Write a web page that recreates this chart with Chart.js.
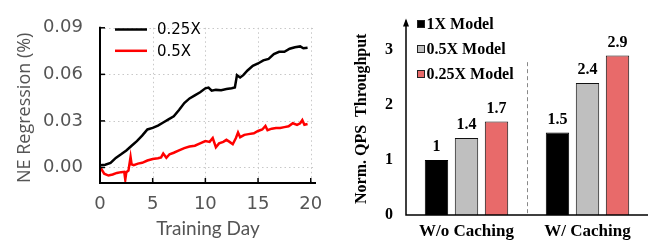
<!DOCTYPE html>
<html><head><meta charset="utf-8">
<script src="https://cdn.jsdelivr.net/npm/chart.js@4/dist/chart.umd.min.js"></script>
<style>
html,body{margin:0;padding:0;background:#fff;width:654px;height:245px;overflow:hidden}
#l{position:absolute;left:0;top:0;width:335px;height:245px}
#r{position:absolute;left:335px;top:0;width:319px;height:245px}
</style></head><body>
<div id="l"><canvas id="cl"></canvas></div>
<div id="r"><canvas id="cr"></canvas></div>
<script>
// ---- Left chart data ----
const daysA = [0,0.5,1,1.5,2,2.5,3,3.5,4,4.5,5,5.5,6,6.5,7,7.5,8,8.5,9,9.5,10,10.3,10.6,11,11.5,12,12.5,12.8,13,13.3,13.6,14,14.5,15,15.5,16,16.5,17,17.5,18,18.5,19,19.3,19.7];
const neA = [0.0014,0.0018,0.003,0.0062,0.0085,0.011,0.014,0.017,0.0205,0.0245,0.0255,0.027,0.029,0.031,0.033,0.037,0.0415,0.0445,0.0465,0.0485,0.051,0.0515,0.0495,0.05,0.0498,0.0505,0.051,0.0515,0.0595,0.058,0.0595,0.0625,0.0655,0.067,0.069,0.070,0.073,0.0745,0.0745,0.0765,0.0775,0.078,0.0768,0.0772];
const daysB = [0,0.15,0.4,0.8,1.2,1.6,2.0,2.3,2.4,2.5,2.7,2.9,3.0,3.2,3.6,4.0,4.5,5.0,5.5,5.8,6.0,6.3,6.6,7.0,7.5,8.0,8.5,9.0,9.5,10.0,10.4,10.7,11.0,11.3,11.7,12.0,12.3,12.6,12.9,13.1,13.3,13.7,14.1,14.6,15.0,15.4,15.7,15.9,16.3,16.7,17.1,17.5,17.9,18.3,18.7,19.0,19.2,19.4,19.7];
const neB = [-0.002,-0.0012,-0.004,-0.0052,-0.0045,-0.0035,-0.003,-0.0028,-0.0078,-0.003,-0.002,0.0068,0.002,0.0015,0.0025,0.003,0.0045,0.0055,0.006,0.0065,0.009,0.0062,0.0085,0.0095,0.011,0.0125,0.0135,0.014,0.0155,0.017,0.0165,0.019,0.013,0.0155,0.0165,0.0178,0.0165,0.0150,0.019,0.0225,0.0195,0.021,0.0215,0.022,0.0235,0.0245,0.0268,0.024,0.025,0.0255,0.0255,0.026,0.0265,0.0285,0.0275,0.0285,0.0305,0.0275,0.028];
const lineLabels = ['0.25X','0.5X'];
const xTicksL = [0,5,10,15,20];
const yTicksL = [0,0.03,0.06,0.09];

// ---- Right chart data ----
const groups = ['W/o Caching','W/ Caching'];
const modelLabels = ['1X Model','0.5X Model','0.25X Model'];
const qps1x = [1,1.5];
const qps05x = [1.4,2.4];
const qps025x = [1.7,2.9];
const yTicksR = [0,1,2,3];

const toPts = (xs, ys) => xs.map((x,i)=>({x:x,y:ys[i]}));

const leftDeco = {
  id:'leftDeco',
  beforeDatasetsDraw(c){
    const {ctx, scales:{x,y}, chartArea:a} = c;
    ctx.save();
    ctx.strokeStyle='#c8c8c8'; ctx.lineWidth=1; ctx.setLineDash([1.5,3]);
    yTicksL.forEach(v=>{ const py=Math.round(y.getPixelForValue(v))+0.5; ctx.beginPath(); ctx.moveTo(a.left,py); ctx.lineTo(x.getPixelForValue(20.5),py); ctx.stroke();});
    xTicksL.forEach(v=>{ if(v===0) return; const px=Math.round(x.getPixelForValue(v))+0.5; ctx.beginPath(); ctx.moveTo(px,y.getPixelForValue(0.09)); ctx.lineTo(px,a.bottom); ctx.stroke();});
    ctx.restore();
  },
  afterDraw(c){
    const {ctx, scales:{x,y}, chartArea:a} = c;
    ctx.save();
    ctx.strokeStyle='#000'; ctx.lineWidth=2; ctx.setLineDash([]);
    ctx.beginPath(); ctx.moveTo(a.left, y.getPixelForValue(0.09)-1); ctx.lineTo(a.left, a.bottom); ctx.lineTo(a.right, a.bottom); ctx.stroke();
    ctx.lineWidth=1.5;
    yTicksL.forEach(v=>{const py=y.getPixelForValue(v); ctx.beginPath(); ctx.moveTo(a.left,py); ctx.lineTo(a.left+5,py); ctx.stroke();});
    xTicksL.forEach(v=>{const px=x.getPixelForValue(v); ctx.beginPath(); ctx.moveTo(px,a.bottom); ctx.lineTo(px,a.bottom-5); ctx.stroke();});
    ctx.font='15px "DejaVu Sans"'; ctx.textBaseline='middle'; ctx.textAlign='left';
    c.data.datasets.forEach((ds,i)=>{
      const yy = 29.5 + i*21.3;
      ctx.strokeStyle=ds.borderColor; ctx.lineWidth=2.5;
      ctx.beginPath(); ctx.moveTo(115,yy); ctx.lineTo(147,yy); ctx.stroke();
      ctx.fillStyle='#000'; ctx.fillText(ds.label,157,yy+1);
    });
    ctx.restore();
  }
};

new Chart(document.getElementById('cl'), {
  type:'line',
  data:{datasets:[
    {label:lineLabels[0], data:toPts(daysA,neA), borderColor:'#000', borderWidth:2.5, pointRadius:0, tension:0},
    {label:lineLabels[1], data:toPts(daysB,neB), borderColor:'#ff0000', borderWidth:2.5, pointRadius:0, tension:0}
  ]},
  options:{
    responsive:true, maintainAspectRatio:false, animation:false,
    layout:{padding:{top:10,right:19,left:0,bottom:0}},
    plugins:{legend:{display:false}, tooltip:{enabled:false}},
    scales:{
      x:{type:'linear', min:0, max:20.5,
        afterBuildTicks:s=>{s.ticks=xTicksL.map(v=>({value:v}));},
        afterFit:s=>{s.height=62;},
        grid:{display:false}, border:{display:false},
        ticks:{font:{family:'DejaVu Sans', size:18}, color:'#555', padding:3, maxRotation:0},
        title:{display:true, text:'Training Day', font:{family:'Lato', size:19}, color:'#555', padding:{top:0,bottom:5}}
      },
      y:{min:-0.01, max:0.09,
        afterBuildTicks:s=>{s.ticks=yTicksL.map(v=>({value:v}));},
        afterFit:s=>{s.width=100;},
        grid:{display:false, drawTicks:false}, border:{display:false},
        ticks:{font:{family:'DejaVu Sans', size:18}, color:'#555', padding:17, callback:v=>v.toFixed(2)},
        title:{display:true, text:'NE Regression (%)', align:'start', font:{family:'Open Sans', size:18}, color:'#555', padding:{top:14,bottom:0}}
      }
    }
  },
  plugins:[leftDeco]
});

const rightDeco = {
  id:'rightDeco',
  afterDatasetsDraw(c){
    const {ctx, scales:{x,y}, chartArea:a} = c;
    ctx.save();
    const sx = Math.round((x.getPixelForValue(0)+x.getPixelForValue(1))/2)+0.5;
    ctx.strokeStyle='#888'; ctx.lineWidth=1; ctx.setLineDash([4,3]);
    ctx.beginPath(); ctx.moveTo(sx, y.getPixelForValue(2.78)); ctx.lineTo(sx, a.bottom); ctx.stroke();
    ctx.setLineDash([]);
    ctx.strokeStyle='#000'; ctx.lineWidth=1.5;
    ctx.beginPath(); ctx.moveTo(a.left, a.top-2); ctx.lineTo(a.left, a.bottom); ctx.lineTo(a.right, a.bottom); ctx.stroke();
    ctx.fillStyle='#000';
    ctx.beginPath(); ctx.moveTo(a.left, a.top-4); ctx.lineTo(a.left-3, a.top+4); ctx.lineTo(a.left+3, a.top+4); ctx.closePath(); ctx.fill();
    ctx.font='bold 16px "Liberation Serif"'; ctx.textAlign='center'; ctx.textBaseline='bottom';
    c.data.datasets.forEach((ds,i)=>{
      c.getDatasetMeta(i).data.forEach((bar,j)=>{
        ctx.fillText(String(ds.data[j]), bar.x, bar.y-5);
      });
    });
    ctx.textAlign='left'; ctx.textBaseline='middle';
    c.data.datasets.forEach((ds,i)=>{
      const yy = 24 + i*25;
      ctx.fillStyle=ds.backgroundColor; ctx.fillRect(82.5,yy-3.5,7,7);
      ctx.strokeStyle='#222'; ctx.lineWidth=1; ctx.strokeRect(82.5,yy-3.5,7,7);
      ctx.fillStyle='#000'; ctx.fillText(ds.label, 91.5, yy+1);
    });
    ctx.restore();
  }
};

new Chart(document.getElementById('cr'), {
  type:'bar',
  data:{labels:groups, datasets:[
    {label:modelLabels[0], data:qps1x, backgroundColor:'#000000', borderColor:'#000', borderWidth:1},
    {label:modelLabels[1], data:qps05x, backgroundColor:'#bfbfbf', borderColor:'#111', borderWidth:1},
    {label:modelLabels[2], data:qps025x, backgroundColor:'#e86a6a', borderColor:'#111', borderWidth:1}
  ]},
  options:{
    responsive:true, maintainAspectRatio:false, animation:false,
    layout:{padding:{top:16,right:6,left:0,bottom:0}},
    datasets:{bar:{categoryPercentage:0.744, barPercentage:0.78}},
    plugins:{legend:{display:false}, tooltip:{enabled:false}},
    scales:{
      x:{grid:{display:false, drawTicks:false}, border:{display:false},
        afterFit:s=>{s.height=30;},
        ticks:{font:{family:'Liberation Serif', size:17, weight:'bold'}, color:'#000', padding:6, maxRotation:0}
      },
      y:{min:0, max:3.5,
        afterBuildTicks:s=>{s.ticks=yTicksR.map(v=>({value:v}));},
        afterFit:s=>{s.width=71;},
        grid:{display:false, drawTicks:false}, border:{display:false},
        ticks:{font:{family:'Liberation Serif', size:16, weight:'bold'}, color:'#000', padding:13},
        title:{display:true, text:'Norm. QPS  Throughput', font:{family:'Liberation Serif', size:16, weight:'bold'}, color:'#000', padding:{top:17,bottom:0}}
      }
    }
  },
  plugins:[rightDeco]
});
</script>
</body></html>
